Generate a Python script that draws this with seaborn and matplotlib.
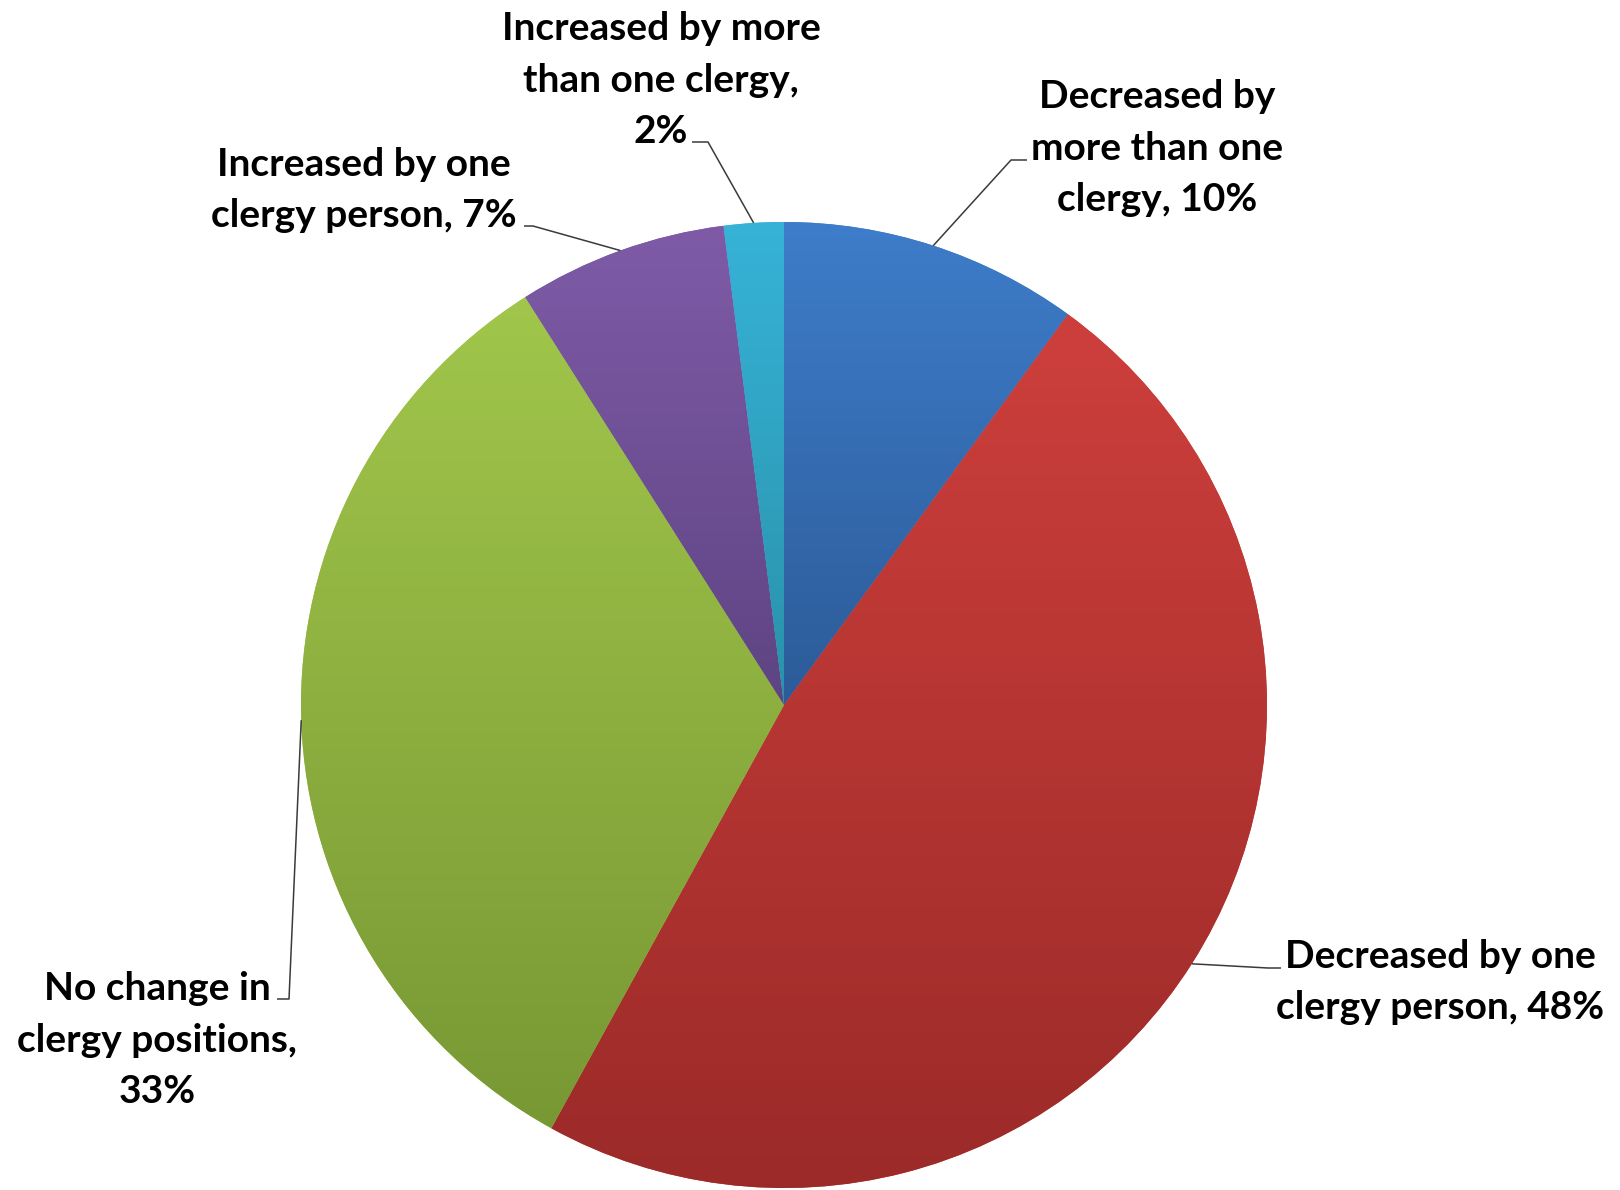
import numpy as np
import matplotlib
matplotlib.use("Agg")
import matplotlib.pyplot as plt
import seaborn as sns
from matplotlib.colors import LinearSegmentedColormap

# slices, clockwise from 12 o'clock
categories = ["Decreased by more than one clergy", "Decreased by one clergy person",
              "No change in clergy positions", "Increased by one clergy person",
              "Increased by more than one clergy"]
shares = [10, 48, 33, 7, 2]
label_templates = ["Decreased by\nmore than one\nclergy, {}%",
                   "Decreased by one\nclergy person, {}%",
                   "No change in\nclergy positions,\n{}%",
                   "Increased by one\nclergy person, {}%",
                   "Increased by more\nthan one clergy,\n{}%"]
top_colors = ["#3e7dca", "#cd3f3c", "#a1c64b", "#7f5ba7", "#36b3d7"]
bottom_colors = ["#2c5b98", "#9a2a28", "#789834", "#5e4483", "#2a91aa"]

sns.set_theme(style="white")
plt.rcParams['font.family'] = ['Lato', 'DejaVu Sans']

W, H = 1620, 1190
fig = plt.figure(figsize=(W / 100, H / 100), dpi=100)
ax = fig.add_axes([0, 0, 1, 1])

cx, cy, r = 784, H - 705, 483
wedges, _ = ax.pie(shares, startangle=90, counterclock=False, center=(cx, cy),
                   radius=r, colors=top_colors, wedgeprops=dict(linewidth=0))

# vertical gradient inside each slice
for w, c_top, c_bot in zip(wedges, top_colors, bottom_colors):
    verts = w.get_path().vertices
    x0, x1 = verts[:, 0].min(), verts[:, 0].max()
    y0, y1 = verts[:, 1].min(), verts[:, 1].max()
    cmap = LinearSegmentedColormap.from_list("g", [c_bot, c_top])
    grad = np.linspace(0, 1, 256).reshape(-1, 1)
    im = ax.imshow(grad, cmap=cmap, extent=(x0, x1, y0, y1), origin="lower",
                   aspect="auto", zorder=2, interpolation="bilinear")
    im.set_clip_path(w)

# label box centres (px, from top) and leader-line elbows
label_pos = [(1157, 148), (1440, 982), (157, 1040), (364, 190), (661, 80)]
elbows = [[(1027, 160), (1011, 160)],
          [(1281, 968), (1268, 968)],
          [(277, 999), (289, 999)],
          [(524, 226), (533, 226)],
          [(692, 142), (708, 142)]]

for w, tmpl, share, (lx, ly), elb in zip(wedges, label_templates, shares, label_pos, elbows):
    mid = np.deg2rad((w.theta1 + w.theta2) / 2)
    ax_, ay_ = cx + r * np.cos(mid), cy + r * np.sin(mid)
    xs = [p[0] for p in elb] + [ax_]
    ys = [H - p[1] for p in elb] + [ay_]
    ax.plot(xs, ys, color="#3a3a3a", lw=1.1, zorder=3, solid_capstyle="butt")
    ax.text(lx, H - ly, tmpl.format(share), ha="center", va="center",
            fontsize=28, fontweight="bold", color="black", linespacing=1.57)

ax.set_xlim(0, W)
ax.set_ylim(0, H)
ax.set_aspect("equal")
ax.axis("off")

fig.savefig("out.png", dpi=100, facecolor="white")
